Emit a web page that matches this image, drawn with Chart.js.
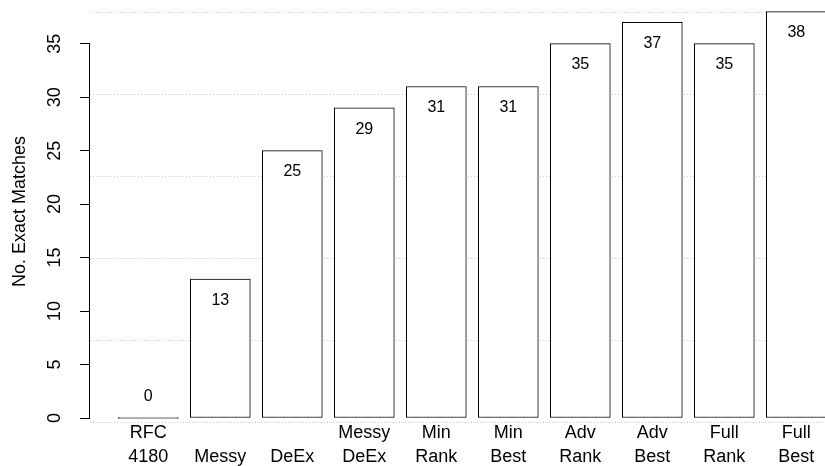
<!DOCTYPE html>
<html>
<head>
<meta charset="utf-8">
<script src="https://cdn.jsdelivr.net/npm/chart.js@4/dist/chart.umd.min.js"></script>
<style>
  html, body { margin: 0; padding: 0; background: #fff; overflow: hidden; }
  #wrap { width: 825px; height: 466px; }
</style>
</head>
<body>
<div id="wrap"><canvas id="chart" width="825" height="466"></canvas></div>
<script>
// bar names (multi-line, as on the axis)
var categories = [
	['RFC', '4180'], ['', 'Messy'], ['', 'DeEx'], ['Messy', 'DeEx'], ['Min', 'Rank'],
	['Min', 'Best'], ['Adv', 'Rank'], ['Adv', 'Best'], ['Full', 'Rank'], ['Full', 'Best']
];
var matches = [0, 13, 25, 29, 31, 31, 35, 37, 35, 38];
var yTicks = [0, 5, 10, 15, 20, 25, 30, 35];
var gridLines = [-0.4, 7.26, 14.92, 22.58, 30.24, 37.9];

// barplot layout: bar width 1, space 0.2
var barX = categories.map(function(c, i) { return 0.7 + 1.2 * i; });

var FONT = 'Liberation Sans, Arial, Helvetica, sans-serif';

// no extra room for labels hanging over the plot edges
function noPadding(scale) {
	scale.paddingLeft = 0;
	scale.paddingRight = 0;
	scale.paddingTop = 0;
	scale.paddingBottom = 0;
}

// axis line only from first to last tick, like R
var axisLine = {
	id: 'axisLine',
	afterDraw: function(chart) {
		var y = chart.scales.y, ctx = chart.ctx;
		var x = chart.chartArea.left;
		ctx.save();
		ctx.strokeStyle = '#000';
		ctx.lineWidth = 1;
		ctx.beginPath();
		ctx.moveTo(x - 0.5, y.getPixelForValue(yTicks[0]));
		ctx.lineTo(x - 0.5, y.getPixelForValue(yTicks[yTicks.length - 1]));
		ctx.stroke();
		ctx.restore();
	}
};

// value labels, 2 units under the bar top (above it when it is too short)
var valueLabels = {
	id: 'valueLabels',
	afterDatasetsDraw: function(chart) {
		var ctx = chart.ctx, y = chart.scales.y;
		var meta = chart.getDatasetMeta(0);
		ctx.save();
		ctx.font = '16px ' + FONT;
		ctx.fillStyle = '#000';
		ctx.textAlign = 'center';
		ctx.textBaseline = 'middle';
		meta.data.forEach(function(bar, i) {
			var v = matches[i];
			var ty = v >= 2 ? v - 2 : v + 2;
			ctx.fillText(String(v), bar.x, y.getPixelForValue(ty));
		});
		ctx.restore();
	}
};

var ctx = document.getElementById('chart').getContext('2d');
var chart = new Chart(ctx, {
	type: 'bar',
	data: {
		datasets: [{
			label: 'No. Exact Matches',
			data: matches.map(function(v, i) { return { x: barX[i], y: v }; }),
			backgroundColor: '#fff',
			borderColor: '#000',
			borderWidth: 1,
			borderSkipped: false,
			minBarLength: 1,
			barThickness: 60
		}]
	},
	options: {
		responsive: false,
		animation: false,
		layout: { padding: 0 },
		plugins: {
			legend: { display: false },
			tooltip: { enabled: false }
		},
		scales: {
			x: {
				type: 'linear',
				offset: false,
				min: -0.272,
				max: 11.978,
				afterBuildTicks: function(scale) {
					scale.ticks = barX.map(function(v) { return { value: v }; });
				},
				afterFit: function(scale) { scale.height = 43; noPadding(scale); },
				grid: { display: false, drawTicks: false },
				border: { display: false },
				ticks: {
					autoSkip: false,
					maxRotation: 0,
					padding: -1.4,
					color: '#000',
					font: { family: FONT, size: 18, lineHeight: 1.3 },
					callback: function(value, index) { return categories[index]; }
				}
			},
			y: {
				position: 'left',
				min: -0.4675,
				max: 39.084,
				afterBuildTicks: function(scale) {
					scale.ticks = yTicks.map(function(v) { return { value: v }; });
				},
				afterFit: function(scale) { scale.width = 90; noPadding(scale); },
				grid: {
					display: true,
					drawOnChartArea: false,
					drawTicks: true,
					tickLength: 10,
					color: '#000'
				},
				border: { display: false },
				ticks: {
					minRotation: 90,
					maxRotation: 90,
					crossAlign: 'center',
					padding: 15,
					color: '#000',
					font: { family: FONT, size: 18 }
				},
				title: {
					display: true,
					text: 'No. Exact Matches',
					color: '#000',
					font: { family: FONT, size: 18 },
					padding: { top: 9, bottom: 0 }
				}
			},
			yGrid: {
				position: 'right',
				min: -0.4675,
				max: 39.084,
				afterBuildTicks: function(scale) {
					scale.ticks = gridLines.map(function(v) { return { value: v }; });
				},
				afterFit: function(scale) { scale.width = 0; noPadding(scale); },
				grid: {
					display: true,
					drawOnChartArea: true,
					drawTicks: false,
					color: '#c8c8c8',
					lineWidth: 1
				},
				border: { display: false, dash: [1, 2] },
				ticks: { display: false }
			}
		}
	},
	plugins: [axisLine, valueLabels]
});
</script>
</body>
</html>
